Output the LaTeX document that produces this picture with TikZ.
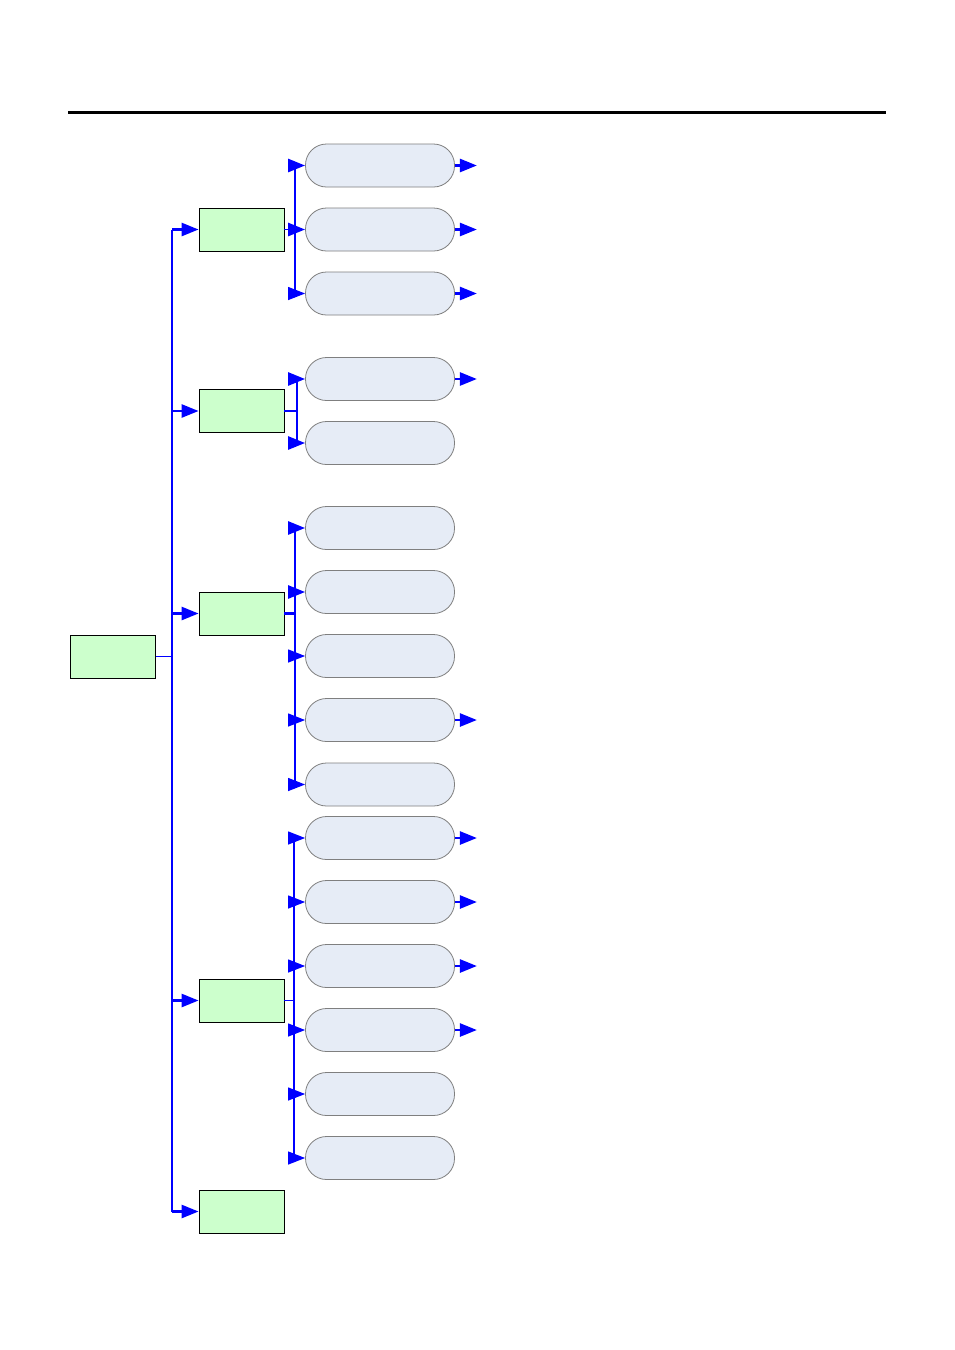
\documentclass[tikz,border=0pt]{standalone}
\usetikzlibrary{arrows.meta}
\definecolor{boxgreen}{HTML}{CCFFCC}
\definecolor{pillfill}{HTML}{E6ECF6}
\definecolor{pillline}{HTML}{7F7F7F}
\definecolor{linkblue}{HTML}{0000FF}
\tikzset{
  greenbox/.style={draw=black, line width=0.8pt, fill=boxgreen, inner sep=0pt, minimum width=85pt, minimum height=43pt},
  pill/.style={draw=pillline, line width=0.8pt, fill=pillfill, rounded corners=21pt, inner sep=0pt, minimum width=149pt, minimum height=43pt},
  thickline/.style={draw=linkblue, line width=2.6pt},
  thinline/.style={draw=linkblue, line width=1.2pt},
  tip/.style={-{Triangle[length=17pt,width=13pt]}},
}
\begin{document}
\begin{tikzpicture}[x=1pt,y=-1pt]
\useasboundingbox (0,0) rectangle (955,1350);
\fill[white] (0,0) rectangle (955,1350);
% top rule
\coordinate (ruleL) at (68,112);
\coordinate (ruleR) at (886,112);
\draw[line width=3pt, black] (ruleL) -- (ruleR);
% root and level-2 boxes
\node[greenbox] (root) at (113,656.5) {};
\node[greenbox] (b1) at (241.5,229.5) {};
\node[greenbox] (b2) at (241.5,411) {};
\node[greenbox] (b3) at (241.5,613.5) {};
\node[greenbox] (b4) at (241.5,1000.5) {};
\node[greenbox] (b5) at (241.5,1211.5) {};
% pills
\foreach \n/\y in {1/165.5,2/229.5,3/293.5,4/379,5/443,6/528,7/592,8/656,9/720,10/784.5,11/838,12/902,13/966,14/1030,15/1094,16/1158}
  \node[pill] (p\n) at (380,\y) {};
% trunk coordinates
\coordinate (tr0) at (172,656.5);
\coordinate (tr1) at (172,229.5);
\coordinate (tr5) at (172,1211.5);
\draw[thinline] (root.east) -- (tr0);
\draw[thickline] (tr1) -- (tr5);
\foreach \b in {1,2,3,4,5}
  \draw[thickline,tip] (b\b.west -| tr0) -- (b\b.west);
% branch 1
\coordinate (v1) at (295,229.5);
\draw[thinline] (b1.east) -- (v1);
\draw[thickline,tip] (v1) |- (p1.west);
\draw[thickline,tip] (v1) -- (p2.west);
\draw[thinline,tip] (v1) |- (p3.west);
% branch 2
\coordinate (v2) at (297,411);
\draw[thickline] (b2.east) -- (v2);
\draw[thickline,tip] (v2) |- (p4.west);
\draw[thickline,tip] (v2) |- (p5.west);
% branch 3
\coordinate (v3) at (295,613.5);
\draw[thickline] (b3.east) -- (v3);
\draw[thickline,tip] (v3) |- (p6.west);
\draw[thickline,tip] (v3) |- (p7.west);
\foreach \n in {8,9,10}
  \draw[thinline,tip] (v3) |- (p\n.west);
% branch 4
\coordinate (v4) at (294,1000.5);
\draw[thinline] (b4.east) -- (v4);
\foreach \n in {11,12,13,14,15,16}
  \draw[thinline,tip] (v4) |- (p\n.west);
% outgoing arrows
\foreach \n in {1,2,3,4,9,11,12,13,14} {
  \coordinate (o\n) at ([xshift=22pt]p\n.east);
  \draw[thickline,tip] (p\n.east) -- (o\n);
}
\end{tikzpicture}
\end{document}
